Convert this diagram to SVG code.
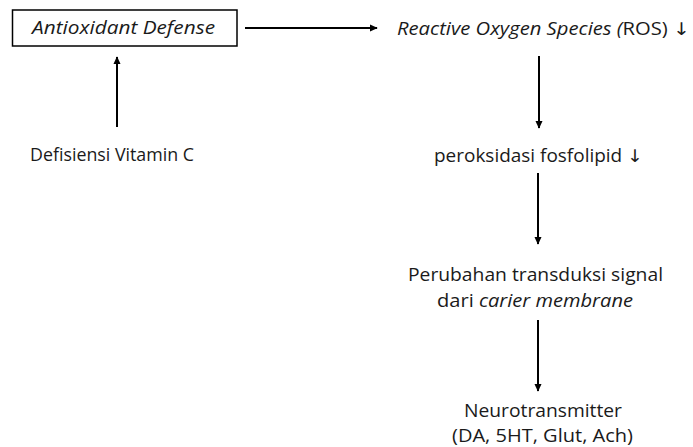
<svg xmlns="http://www.w3.org/2000/svg" width="693" height="447" viewBox="0 0 693 447">
<defs>
<marker id="ah" viewBox="0 0 10 10" refX="9" refY="5" markerWidth="8" markerHeight="8" orient="auto" markerUnits="userSpaceOnUse">
<path d="M0,0.5 L10,5 L0,9.5 z" fill="#000"/>
</marker>
<style>
text{font-family:"Open Sans","Noto Sans","Liberation Sans",sans-serif;font-size:17.5px;fill:#1a1a1a}
.c{text-anchor:middle}
.i{font-style:italic}
.ar{font-family:"DejaVu Sans",sans-serif;fill:#1a1a1a}
.ln{stroke:#000;stroke-width:2;fill:none;marker-end:url(#ah)}
</style>
</defs>
<rect width="693" height="447" fill="#fff"/>
<g id="antioxidant">
<rect x="12.5" y="10" width="224.5" height="36" fill="#fff" stroke="#000" stroke-width="1.5"/>
<text class="c i" x="123.5" y="34" textLength="183" lengthAdjust="spacingAndGlyphs">Antioxidant Defense</text>
</g>
<g id="vitc">
<text class="c" x="112" y="161" textLength="164" lengthAdjust="spacingAndGlyphs">Defisiensi Vitamin C</text>
</g>
<g id="ros">
<text x="397" y="35" textLength="293" lengthAdjust="spacingAndGlyphs"><tspan class="i">Reactive Oxygen Species (</tspan>ROS) <tspan class="ar">↓</tspan></text>
</g>
<g id="perok">
<text class="c" x="538.5" y="162" textLength="209" lengthAdjust="spacingAndGlyphs">peroksidasi fosfolipid <tspan class="ar">↓</tspan></text>
</g>
<g id="perubahan">
<text class="c" x="535.5" y="281" textLength="255" lengthAdjust="spacingAndGlyphs">Perubahan transduksi signal</text>
<text class="c" x="535" y="307" textLength="196" lengthAdjust="spacingAndGlyphs">dari <tspan class="i">carier membrane</tspan></text>
</g>
<g id="neuro">
<text class="c" x="543" y="417" textLength="158" lengthAdjust="spacingAndGlyphs">Neurotransmitter</text>
<text class="c" x="542.5" y="442" textLength="181" lengthAdjust="spacingAndGlyphs">(DA, 5HT, Glut, Ach)</text>
</g>
<g id="connectors">
<line class="ln" x1="117" y1="127" x2="117" y2="57"/>
<line class="ln" x1="245" y1="28" x2="377" y2="28"/>
<line class="ln" x1="539" y1="56" x2="539" y2="128"/>
<line class="ln" x1="538" y1="173" x2="538" y2="244"/>
<line class="ln" x1="538" y1="320" x2="538" y2="391"/>
</g>
</svg>
